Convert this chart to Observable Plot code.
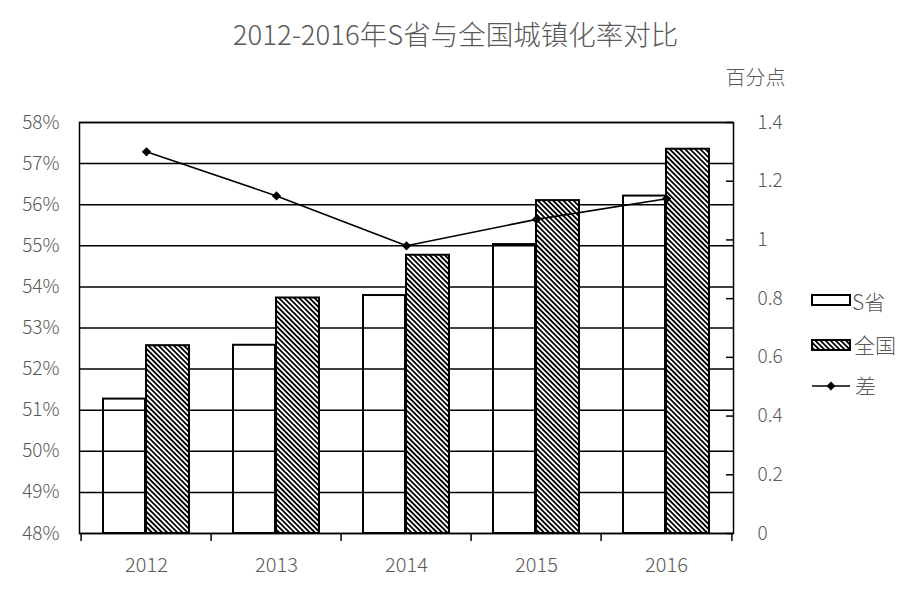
<!DOCTYPE html>
<html><head><meta charset="utf-8">
<script src="https://cdn.jsdelivr.net/npm/d3@7"></script>
<script src="https://cdn.jsdelivr.net/npm/@observablehq/plot@0.6"></script>
<style>body{margin:0;background:#fff}</style>
</head><body><div id="chart"></div>
<script>
const years = ["2012", "2013", "2014", "2015", "2016"];
const provinceRate = [51.27, 52.58, 53.79, 55.03, 56.21];
const nationalRate = [52.57, 53.73, 54.77, 56.10, 57.35];
const gapPoints = [1.30, 1.15, 0.98, 1.07, 1.14];
const leftTicks = [48, 49, 50, 51, 52, 53, 54, 55, 56, 57, 58];
const rightTicks = [0, 0.2, 0.4, 0.6, 0.8, 1, 1.2, 1.4];
const seriesNames = ["S省", "全国", "差"];
const title = "2012-2016年S省与全国城镇化率对比";
const rightUnit = "百分点";

const yMin = 48, yMax = 58, rMax = 1.4;
const toLeft = d => yMin + d / rMax * (yMax - yMin);
const fromLeft = v => (v - yMin) / (yMax - yMin) * rMax;

const rows = years.map((year, i) => ({year, province: provinceRate[i], national: nationalRate[i], gap: gapPoints[i]}));

const font = "'Noto Sans CJK SC', 'Microsoft YaHei', sans-serif";
const grey = "#595959";
const half = (910 - 79 - 177) / years.length / 2;

const plot = Plot.plot({
  width: 910, height: 603,
  marginTop: 122, marginBottom: 70, marginLeft: 79, marginRight: 177,
  style: {fontFamily: font, fontSize: "19px", color: grey, background: "#fff", fontWeight: 300},
  x: {type: "band", domain: years, padding: 0, label: null},
  y: {domain: [yMin, yMax], label: null},
  marks: [
    Plot.gridY(leftTicks, {stroke: "#000", strokeOpacity: 1, strokeWidth: 1.5}),
    Plot.barY(rows, {x: "year", y1: yMin, y2: "province", fill: "none", stroke: "#000", strokeWidth: 2, insetLeft: 22, insetRight: 66}),
    Plot.barY(rows, {x: "year", y1: yMin, y2: "national", fill: "url(#hatch)", stroke: "#000", strokeWidth: 2, insetLeft: 65, insetRight: 22}),
    Plot.frame({stroke: "#000", strokeWidth: 1.5}),
    Plot.line(rows, {x: "year", y: d => toLeft(d.gap), stroke: "#000", strokeWidth: 1.6}),
    Plot.dot(rows, {x: "year", y: d => toLeft(d.gap), symbol: "diamond2", r: 4.2, fill: "#000", stroke: "none"}),
    Plot.axisY(leftTicks, {anchor: "left", tickSize: 0, tickPadding: 20, tickFormat: d => d + "%", fontSize: 19, fill: grey, label: null}),
    Plot.axisY(rightTicks.map(toLeft), {anchor: "right", tickSize: 0, tickPadding: 24, tickFormat: v => String(+fromLeft(v).toFixed(1)), fontSize: 19, fill: grey, label: null}),
    Plot.tickY(rightTicks.map(toLeft), {y: d => d, stroke: "#000", strokeWidth: 1.5, insetLeft: 647}),
    Plot.axisX({anchor: "bottom", tickSize: 0, tickPadding: 24, fontSize: 20, fill: grey, label: null}),
    Plot.ruleX(years, {x: d => d, dx: -half, insetTop: 411, insetBottom: -8, stroke: "#000", strokeWidth: 1.5}),
    Plot.ruleX(years.slice(-1), {x: d => d, dx: half, insetTop: 411, insetBottom: -8, stroke: "#000", strokeWidth: 1.5}),
    Plot.text([title], {frameAnchor: "top", lineAnchor: "middle", dx: 49, dy: -86, fontSize: 27.5, fill: grey}),
    Plot.text([rightUnit], {frameAnchor: "top-right", lineAnchor: "middle", dx: 22, dy: -44, fontSize: 20, fill: grey, textAnchor: "middle"})
  ]
});

const svg = d3.select(plot);
const defs = svg.insert("defs", ":first-child");
const pat = defs.append("pattern").attr("id", "hatch").attr("patternUnits", "userSpaceOnUse")
  .attr("width", 3.6).attr("height", 3.6).attr("patternTransform", "rotate(-45)");
pat.append("rect").attr("width", 3.6).attr("height", 3.6).attr("fill", "#fff");
pat.append("rect").attr("width", 1.8).attr("height", 3.6).attr("fill", "#000");

const lg = svg.append("g").attr("font-family", font).attr("font-size", 21).attr("font-weight", 300)
  .attr("fill", grey).attr("text-anchor", "start");
lg.append("rect").attr("x", 812).attr("y", 295).attr("width", 38).attr("height", 10).attr("fill", "#fff").attr("stroke", "#000").attr("stroke-width", 2);
lg.append("text").attr("x", 852).attr("y", 301).attr("dominant-baseline", "central").text(seriesNames[0]);
lg.append("rect").attr("x", 812).attr("y", 340).attr("width", 38).attr("height", 10).attr("fill", "url(#hatch)").attr("stroke", "#000").attr("stroke-width", 2);
lg.append("text").attr("x", 854).attr("y", 344).attr("dominant-baseline", "central").text(seriesNames[1]);
lg.append("line").attr("x1", 812).attr("x2", 850).attr("y1", 386).attr("y2", 386).attr("stroke", "#000").attr("stroke-width", 1.6);
lg.append("path").attr("d", d3.symbol(d3.symbolDiamond2, 50)()).attr("transform", "translate(831,386)").attr("fill", "#000");
lg.append("text").attr("x", 855).attr("y", 385).attr("dominant-baseline", "central").text(seriesNames[2]);

document.getElementById("chart").appendChild(plot);
</script>
</body></html>
